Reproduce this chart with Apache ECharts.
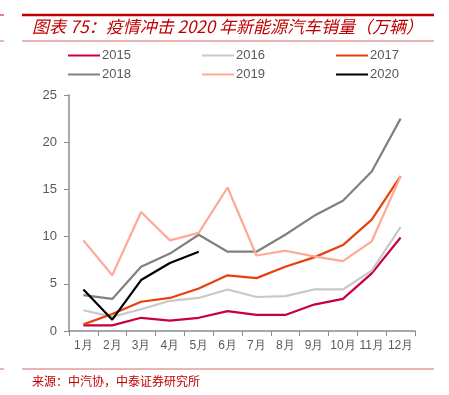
<!DOCTYPE html>
<html><head><meta charset="utf-8">
<script src="https://cdn.jsdelivr.net/npm/echarts@6/dist/echarts.min.js"></script>
<style>html,body{margin:0;padding:0;background:#fff}#c{width:449px;height:395px}</style>
</head><body><div id="c"></div>
<script>
const months = ['1月','2月','3月','4月','5月','6月','7月','8月','9月','10月','11月','12月'];
const s2015 = [0.6,0.6,1.4,1.1,1.4,2.1,1.7,1.7,2.8,3.4,6.1,9.9];
const s2016 = [2.2,1.5,2.3,3.2,3.5,4.4,3.6,3.7,4.4,4.4,6.4,11.0];
const s2017 = [0.7,1.8,3.1,3.5,4.5,5.9,5.6,6.8,7.8,9.1,11.8,16.4];
const s2018 = [3.8,3.4,6.8,8.2,10.2,8.4,8.4,10.2,12.2,13.8,16.9,22.5];
const s2019 = [9.6,5.9,12.6,9.6,10.4,15.2,8.0,8.5,7.9,7.4,9.5,16.4];
const s2020 = [4.4,1.2,5.4,7.2,8.4];
const yTicks = [0,5,10,15,20,25];
const names = ['2015','2016','2017','2018','2019','2020'];
const colors = ['#c8003c','#c8c8c8','#e8400c','#808080','#ffa898','#000000'];
const data = [s2015,s2016,s2017,s2018,s2019,s2020];

const chart = echarts.init(document.getElementById('c'));
const legendBase = {orient:'vertical', top:44, itemWidth:32, itemHeight:2, itemGap:6, icon:'rect',
  textStyle:{color:'#595959', fontSize:13, fontFamily:'Liberation Sans', padding:[0,0,0,-3]}};
chart.setOption({
  animation:false,
  color: colors,
  legend:[
    Object.assign({}, legendBase, {left:63, data:['2015','2018']}),
    Object.assign({}, legendBase, {left:197, data:['2016','2019']}),
    Object.assign({}, legendBase, {left:331, data:['2017','2020']})
  ],
  grid:{left:69, right:34, top:95, bottom:64},
  xAxis:{type:'category', data:months, boundaryGap:true,
    axisLine:{lineStyle:{color:'#8c8c8c', width:1.5}},
    axisTick:{show:true, length:5, lineStyle:{color:'#8c8c8c'}},
    axisLabel:{color:'#595959', fontSize:12, fontFamily:'Liberation Sans', margin:9, interval:0}},
  yAxis:{type:'value', min:0, max:25, interval:5,
    axisLine:{show:true, lineStyle:{color:'#8c8c8c', width:1.5}},
    axisTick:{show:true, length:5, lineStyle:{color:'#8c8c8c'}},
    splitLine:{show:false},
    axisLabel:{color:'#595959', fontSize:13, fontFamily:'Liberation Sans', margin:12,
      formatter: v => yTicks.includes(v) ? String(v) : ''}},
  series: names.map((n,i)=>({name:n, type:'line', data:data[i], symbol:'none',
    lineStyle:{width:2.2, color:colors[i]}, z: i===5?10:5})),
  graphic:[
    {type:'line', shape:{x1:22,y1:15,x2:434,y2:15}, style:{stroke:'#c00000', lineWidth:2.5}},
    {type:'line', shape:{x1:0,y1:15,x2:4,y2:15}, style:{stroke:'#c00000', lineWidth:1}},
    {type:'line', shape:{x1:22,y1:41,x2:434,y2:41}, style:{stroke:'#d46a6a', lineWidth:1}},
    {type:'line', shape:{x1:0,y1:41,x2:4,y2:41}, style:{stroke:'#d46a6a', lineWidth:1}},
    {type:'text', left:32, top:18, style:{text:'图表 75：疫情冲击 2020 年新能源汽车销量（万辆）',
      fill:'#c00000', font:'italic 17px "Noto Sans CJK SC", sans-serif'}},
    {type:'line', shape:{x1:22,y1:369,x2:434,y2:369}, style:{stroke:'#d46a6a', lineWidth:1}},
    {type:'line', shape:{x1:0,y1:369,x2:4,y2:369}, style:{stroke:'#d46a6a', lineWidth:1}},
    {type:'text', left:32, top:375, style:{text:'来源：中汽协，中泰证券研究所',
      fill:'#c00000', font:'12px "Noto Sans CJK SC", serif'}}
  ]
});
</script></body></html>
